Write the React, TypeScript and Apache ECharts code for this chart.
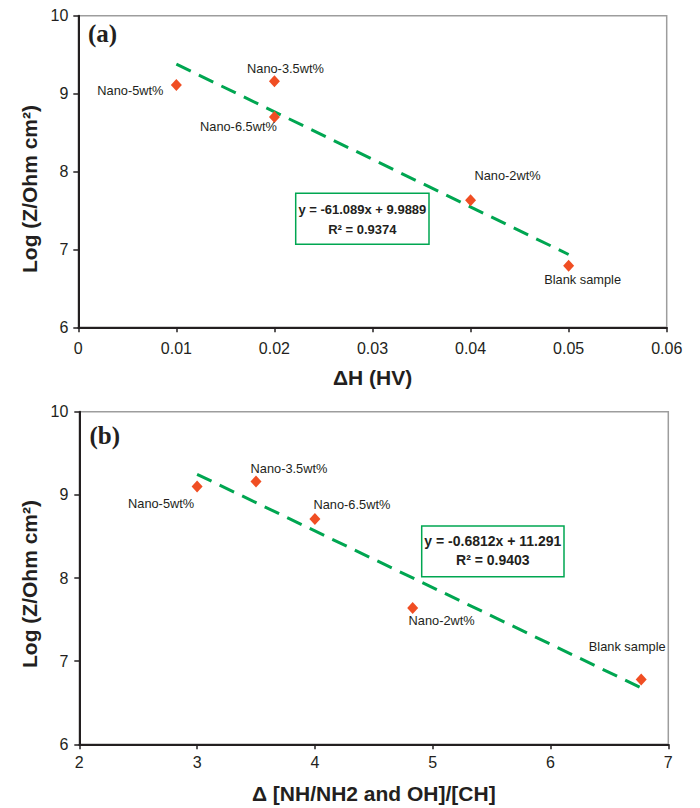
import { useEffect, useRef } from 'react';
import * as echarts from 'echarts';

// ---- data ----
const sampleNames = ['Nano-5wt%', 'Nano-3.5wt%', 'Nano-6.5wt%', 'Nano-2wt%', 'Blank sample'];
const deltaH = [0.01, 0.02, 0.02, 0.04, 0.05];
const logZa = [9.11, 9.16, 8.7, 7.63, 6.79];
const deltaRatio = [3.0, 3.5, 4.0, 4.83, 6.77];
const logZb = [9.1, 9.16, 8.71, 7.64, 6.78];
const fitA = [-61.089, 9.9889];
const fitARange = [0.01, 0.05];
const r2A = '0.9374';
const fitB = [-0.6812, 11.291];
const fitBRange = [3.0, 6.77];
const r2B = '0.9403';
const yTicks = [6, 7, 8, 9, 10];
const xTicksA = [0, 0.01, 0.02, 0.03, 0.04, 0.05, 0.06];
const xTicksB = [2, 3, 4, 5, 6, 7];

// label offsets (style, px from point centre)
const labelOffsetA = [[-46, 5], [11, -13], [-36, 10], [37, -25], [14, 14]];
const labelOffsetB = [[-36, 17], [33, -13], [37, -14], [29, 13], [-14, -33]];

const FONT = 'Arial, "Liberation Sans", Helvetica, sans-serif';
const TXT = '#231f20';
const GREEN = '#00a651';
const ORANGE = '#f04e23';

const fmt = (s: number, b: number) => `y = ${s}x + ${b}`;

export default function App() {
  const ref = useRef<HTMLDivElement>(null);
  useEffect(() => {
    if (!ref.current) return;
    const chart = echarts.init(ref.current, undefined, { renderer: 'svg' });

    const grids = [
      { left: 78.3, top: 15.7, width: 588.4, height: 311.6 },
      { left: 79.3, top: 411.7, width: 589, height: 332.6 },
    ];

    const xAxisCommon = (min: number, max: number, interval: number, name: string, gap: number, margin: number, gi: number) => ({
      type: 'value',
      gridIndex: gi,
      min,
      max,
      interval,
      name,
      nameLocation: 'middle',
      nameGap: gap,
      nameTextStyle: { fontFamily: FONT, fontSize: 21, fontWeight: 'bold', color: TXT },
      axisLine: { show: true, onZero: false, lineStyle: { color: '#231f20', width: 2 } },
      axisTick: { show: true, length: 5, lineStyle: { color: '#231f20', width: 1.5 } },
      axisLabel: { fontFamily: FONT, fontSize: 16, color: TXT, margin },
      splitLine: { show: false },
    });
    const yAxisCommon = (gi: number, margin: number) => ({
      type: 'value',
      gridIndex: gi,
      min: yTicks[0],
      max: yTicks[yTicks.length - 1],
      interval: 1,
      axisLine: { show: true, onZero: false, lineStyle: { color: '#231f20', width: 2 } },
      axisTick: { show: true, length: 5, lineStyle: { color: '#231f20', width: 1.5 } },
      axisLabel: { fontFamily: FONT, fontSize: 16, color: TXT, margin },
      splitLine: { show: false },
    });

    const scatterData = (xs: number[], ys: number[], offs: number[][]) =>
      xs.map((x, i) => ({
        name: sampleNames[i],
        value: [x, ys[i]],
        label: { offset: offs[i] },
      }));

    const trend = (fit: number[], range: number[]) => range.map((x) => [x, fit[0] * x + fit[1]]);

    const scatterSeries = (xi: number, data: any[]) => ({
      type: 'scatter',
      xAxisIndex: xi,
      yAxisIndex: xi,
      symbol: 'diamond',
      symbolSize: [11, 12],
      itemStyle: { color: ORANGE, opacity: 1 },
      z: 5,
      label: {
        show: true,
        position: 'inside',
        align: 'center',
        verticalAlign: 'middle',
        formatter: '{b}',
        fontFamily: FONT,
        fontSize: 12.8,
        color: TXT,
      },
      data,
    });

    const lineSeries = (xi: number, data: number[][]) => ({
      type: 'line',
      xAxisIndex: xi,
      yAxisIndex: xi,
      symbol: 'none',
      z: 3,
      lineStyle: { color: GREEN, width: 3, type: [16, 9] },
      data,
    });

    const yTitle = (x: number, y: number) => ({
      type: 'text',
      x,
      y,
      rotation: Math.PI / 2,
      style: {
        text: 'Log (Z/Ohm cm²)',
        align: 'center',
        verticalAlign: 'middle',
        fontFamily: FONT,
        fontSize: 21,
        fontWeight: 'bold',
        fill: TXT,
      },
    });

    const eqBox = (x: number, y: number, w: number, h: number, line1: string, r2: string, fs: number, y1: number, y2: number) => ({
      type: 'group',
      children: [
        {
          type: 'rect',
          shape: { x, y, width: w, height: h },
          style: { fill: '#fff', stroke: GREEN, lineWidth: 1.5 },
          z: 10,
        },
        {
          type: 'text',
          x: x + w / 2,
          y: y1,
          z: 11,
          style: { text: line1, align: 'center', verticalAlign: 'middle', fontFamily: FONT, fontSize: fs, fontWeight: 'bold', fill: TXT },
        },
        {
          type: 'text',
          x: x + w / 2,
          y: y2,
          z: 11,
          style: { text: `R² = ${r2}`, align: 'center', verticalAlign: 'middle', fontFamily: FONT, fontSize: fs, fontWeight: 'bold', fill: TXT },
        },
      ],
    });

    const option: any = {
      animation: false,
      backgroundColor: '#fff',
      grid: grids.map((g) => ({ ...g, show: true, borderColor: '#9d9d9d', borderWidth: 1.5, backgroundColor: 'transparent', containLabel: false })),
      xAxis: [
        xAxisCommon(xTicksA[0], xTicksA[xTicksA.length - 1], 0.01, 'ΔH (HV)', 40, 13, 0),
        xAxisCommon(xTicksB[0], xTicksB[xTicksB.length - 1], 1, 'Δ [NH/NH2 and OH]/[CH]', 39, 10, 1),
      ],
      yAxis: [yAxisCommon(0, 10), yAxisCommon(1, 11)],
      series: [
        lineSeries(0, trend(fitA, fitARange)),
        scatterSeries(0, scatterData(deltaH, logZa, labelOffsetA)),
        lineSeries(1, trend(fitB, fitBRange)),
        scatterSeries(1, scatterData(deltaRatio, logZb, labelOffsetB)),
      ],
      graphic: [
        yTitle(29, 189),
        yTitle(29, 584),
        {
          type: 'text',
          x: 88,
          y: 33,
          style: { text: '(a)', align: 'left', verticalAlign: 'middle', fontFamily: '"Liberation Serif", "Times New Roman", serif', fontSize: 25, fontWeight: 'bold', fill: TXT },
        },
        {
          type: 'text',
          x: 89.5,
          y: 435,
          style: { text: '(b)', align: 'left', verticalAlign: 'middle', fontFamily: '"Liberation Serif", "Times New Roman", serif', fontSize: 25, fontWeight: 'bold', fill: TXT },
        },
        eqBox(295.7, 193.3, 133.3, 51, fmt(fitA[0], fitA[1]), r2A, 13, 209, 229),
        eqBox(421.7, 526, 142.3, 50.7, fmt(fitB[0], fitB[1]), r2B, 14, 541, 560),
      ],
    };

    chart.setOption(option);
    return () => chart.dispose();
  }, []);

  return <div ref={ref} style={{ position: 'fixed', left: 0, top: 0, width: 700, height: 808, background: '#fff' }} />;
}
